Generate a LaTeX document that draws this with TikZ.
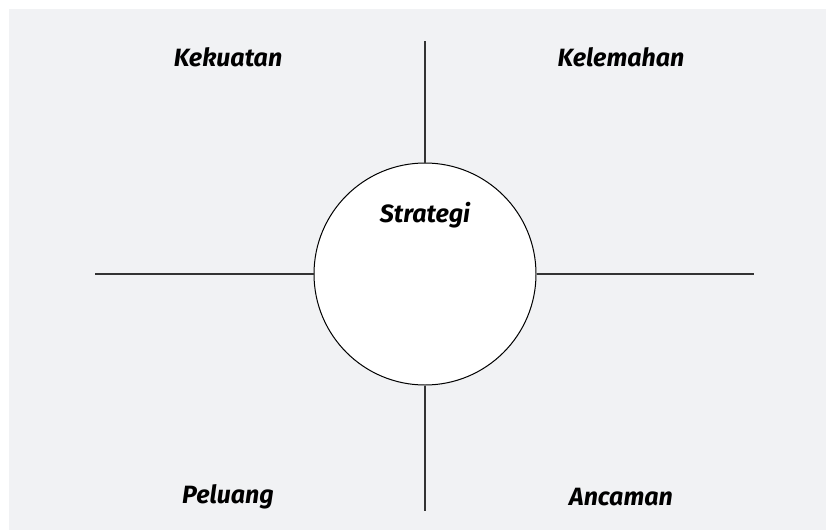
\documentclass[tikz,border=0pt]{standalone}
\usepackage{fontspec}
\setmainfont{Fira Sans}
\definecolor{bggray}{HTML}{F1F2F4}
\definecolor{linegray}{HTML}{333333}
\begin{document}
\begin{tikzpicture}[x=1pt,y=-1pt,
  lbl/.style={font=\fontsize{25}{29}\selectfont\bfseries\itshape, text=black, inner sep=0pt},
  seg/.style={draw=linegray, line width=1.3pt}]
\useasboundingbox (0,0) rectangle (826,530);
\fill[bggray] (9,9) rectangle (826,530);
\node[circle, draw=black, line width=1pt, fill=white, minimum size=222pt, inner sep=0pt] (c) at (425,274) {};
\coordinate (l) at (95,274);
\coordinate (r) at (754,274);
\coordinate (t) at (425,41);
\coordinate (b) at (425,511);
\draw[seg] (l) -- (c.west);
\draw[seg] (c.east) -- (r);
\draw[seg] (t) -- (c.north);
\draw[seg] (c.south) -- (b);
\node[lbl] (s) at (425,215) {Strategi};
\node[lbl] (k1) at (228,57) {Kekuatan};
\node[lbl] (k2) at (621,57) {Kelemahan};
\node[lbl] (p) at (228,497) {Peluang};
\node[lbl] (a) at (621,497) {Ancaman};
\end{tikzpicture}
\end{document}
